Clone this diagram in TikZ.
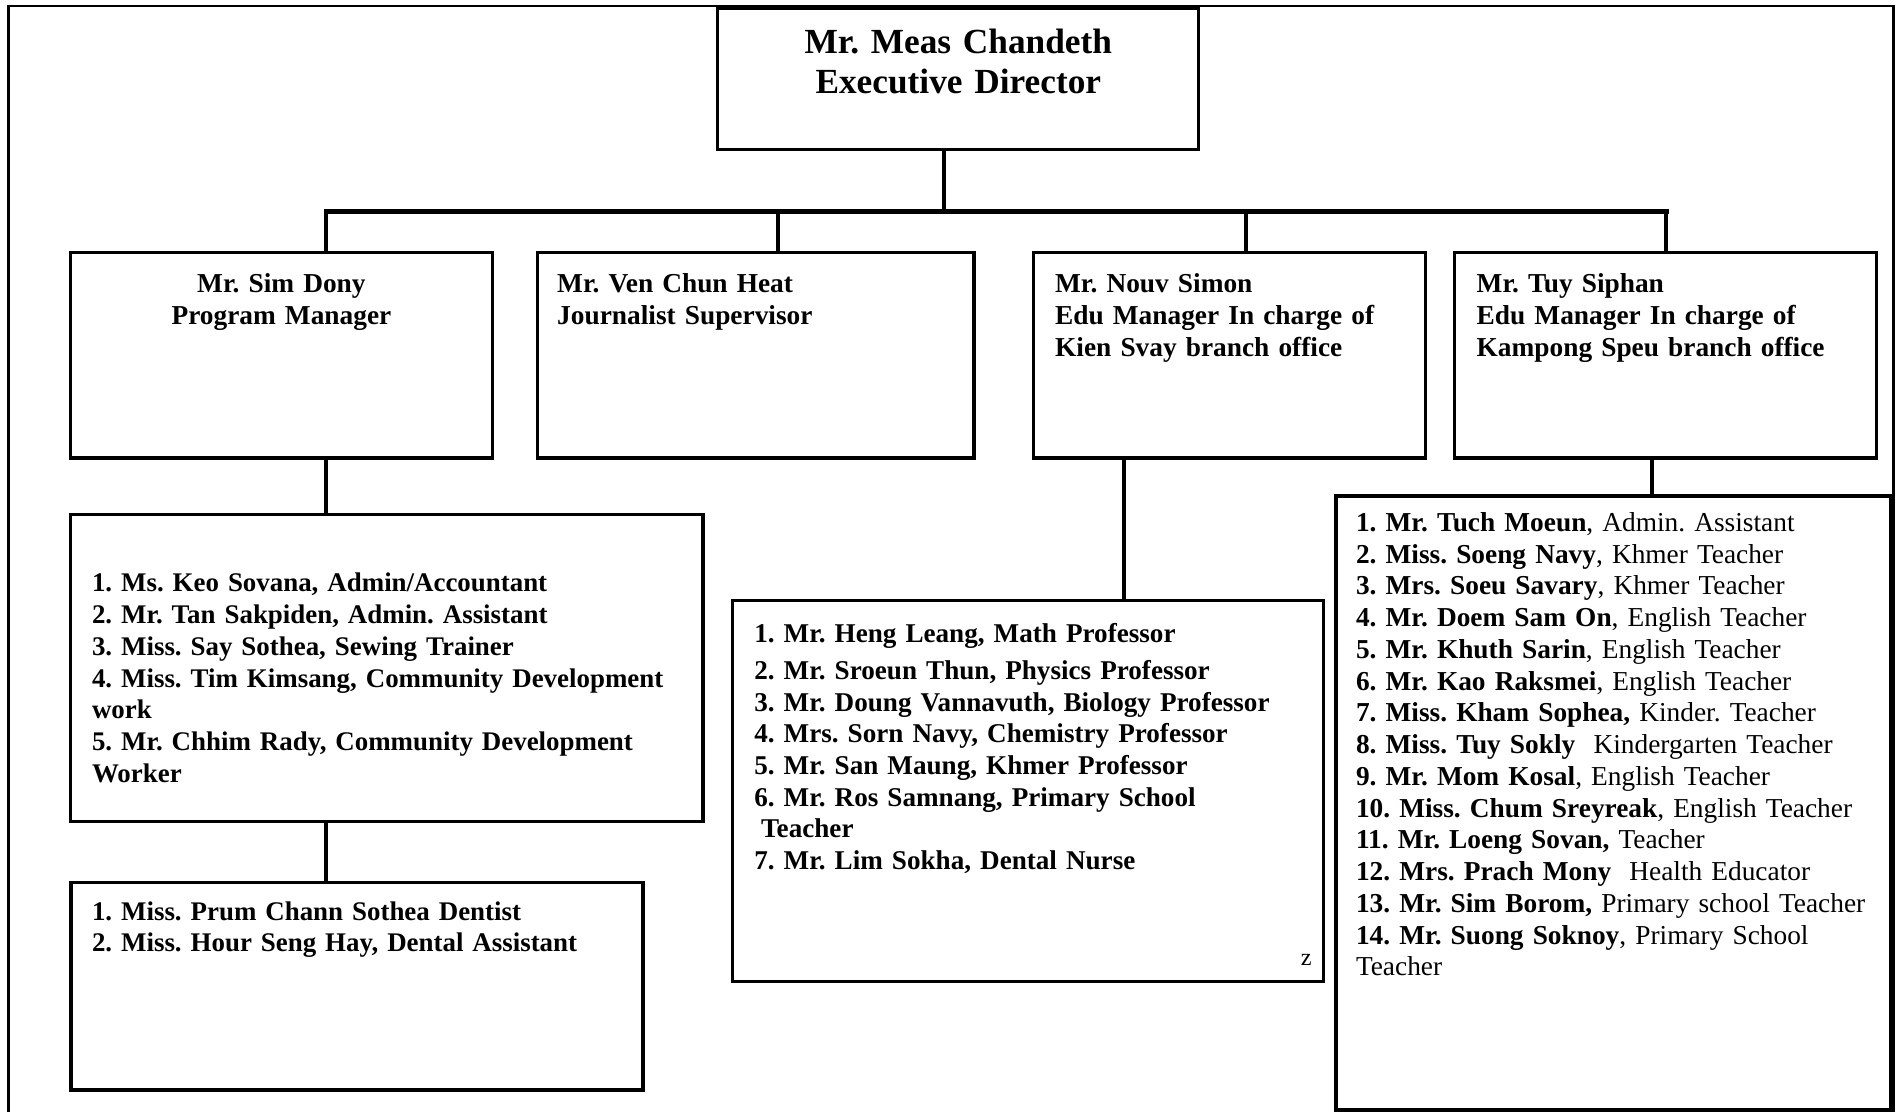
\documentclass[tikz,border=0pt]{standalone}
\usepackage{fontspec}
\setmainfont{Liberation Serif}
\usetikzlibrary{calc,positioning,fit}
\frenchspacing

\begin{document}
\begin{tikzpicture}[x=0.55pt,y=-0.55pt,inner sep=0pt,
  frame/.style={line width=1.1pt},
  box/.style={draw,line width=1.5pt,fit={#1}},
  link/.style={line width=1.8pt},
  busbar/.style={line width=2.3pt,line cap=rect},
  headtext/.style={font=\bfseries\fontsize{16}{18.2}\selectfont,text width=230pt,align=center,anchor=base},
  mgrtext/.style={font=\bfseries\fontsize{12.4}{14.5}\selectfont,text width=200pt,align=left,anchor=base west},
  stafftext/.style={font=\fontsize{12.4}{14.4}\selectfont,text width=300pt,align=left,anchor=base west}]
\useasboundingbox (0,0) rectangle (1568,916);
\draw[frame] (7,940) |- (1561,5) -- (1561,940);

\node[box={(591.5,6.5) (988,123.5)}] (exec) {};
\node[box={(58,208) (406,377.5)}] (dony) {};
\node[box={(443,208) (803,377.5)}] (heat) {};
\node[box={(852,208) (1175,377.5)}] (simon) {};
\node[box={(1199,208) (1547,377.5)}] (siphan) {};
\node[box={(58,424) (579.5,677)}] (donylist) {};
\node[box={(58.5,727.5) (530,898.6)}] (dentlist) {};
\node[box={(604,495) (1091,809)}] (simonlist) {};
\node[box={(1101.5,409) (1559,915)}] (siphanlist) {};

\node[headtext] (exec-t) at (790,44) {Mr. Meas Chandeth\\Executive Director};
\node[mgrtext,align=center,anchor=base] (dony-t) at (232,241) {Mr. Sim Dony\\Program Manager};
\node[mgrtext] (heat-t) at (459,241) {Mr. Ven Chun Heat\\Journalist Supervisor};
\node[mgrtext] (simon-t) at (869.5,241) {Mr. Nouv Simon\\Edu Manager In charge of\\Kien Svay branch office};
\node[mgrtext] (siphan-t) at (1217,241) {Mr. Tuy Siphan\\Edu Manager In charge of\\Kampong Speu branch office};

\node[stafftext,font=\bfseries\fontsize{12.2}{14.4}\selectfont] (donylist-t) at (75.5,488) {1. Ms. Keo Sovana, Admin/Accountant\\
2. Mr. Tan Sakpiden, Admin. Assistant\\
3. Miss. Say Sothea, Sewing Trainer\\
4. Miss. Tim Kimsang, Community Development\\
work\\
5. Mr. Chhim Rady, Community Development\\
Worker};
\node[stafftext,font=\bfseries\fontsize{12.2}{14.3}\selectfont] (dentlist-t) at (75.5,758.5) {1. Miss. Prum Chann Sothea Dentist\\
2. Miss. Hour Seng Hay, Dental Assistant};
\node[stafftext,font=\bfseries\fontsize{12.3}{14.35}\selectfont] (simonlist-t) at (621.5,530) {1. Mr. Heng Leang, Math Professor\\[2.3pt]
2. Mr. Sroeun Thun, Physics Professor\\
3. Mr. Doung Vannavuth, Biology Professor\\
4. Mrs. Sorn Navy, Chemistry Professor\\
5. Mr. San Maung, Khmer Professor\\
6. Mr. Ros Samnang, Primary School\\
\hspace*{0.25em}Teacher\\
7. Mr. Lim Sokha, Dental Nurse};
\node[stafftext,font=\fontsize{11}{13}\selectfont] (zmark) at (1072,795.6) {z};
\node[stafftext] (siphanlist-t) at (1117.5,438) {\textbf{1. Mr. Tuch Moeun}, Admin. Assistant\\
\textbf{2. Miss. Soeng Navy}, Khmer Teacher\\
\textbf{3. Mrs. Soeu Savary}, Khmer Teacher\\
\textbf{4. Mr. Doem Sam On}, English Teacher\\
\textbf{5. Mr. Khuth Sarin}, English Teacher\\
\textbf{6. Mr. Kao Raksmei}, English Teacher\\
\textbf{7. Miss. Kham Sophea,} Kinder. Teacher\\
\textbf{8. Miss. Tuy Sokly}\ \ Kindergarten Teacher\\
\textbf{9. Mr. Mom Kosal}, English Teacher\\
\textbf{10. Miss. Chum Sreyreak}, English Teacher\\
\textbf{11. Mr. Loeng Sovan,} Teacher\\
\textbf{12. Mrs. Prach Mony}\ \ Health Educator\\
\textbf{13. Mr. Sim Borom,} Primary school Teacher\\
\textbf{14. Mr. Suong Soknoy}, Primary School\\
Teacher};

\coordinate (bus) at (778,174.5);
\coordinate (d1) at (269,174.5);
\coordinate (d2) at (641.5,174.5);
\coordinate (d3) at (1027,174.5);
\coordinate (d4) at (1373.5,174.5);
\coordinate (ks) at (927,0);
\coordinate (kp) at (1362,0);
\draw[link] (exec.south -| bus) -- (bus);
\draw[busbar] (d1) -- (d4);
\foreach \d/\b in {d1/dony,d2/heat,d3/simon,d4/siphan}
  \draw[link] (\d) -- (\d |- \b.north);
\draw[link] (dony.south -| d1) -- (donylist.north -| d1);
\draw[link] (donylist.south -| d1) -- (dentlist.north -| d1);
\draw[link] (simon.south -| ks) -- (simonlist.north -| ks);
\draw[link] (siphan.south -| kp) -- (siphanlist.north -| kp);
\end{tikzpicture}
\end{document}
